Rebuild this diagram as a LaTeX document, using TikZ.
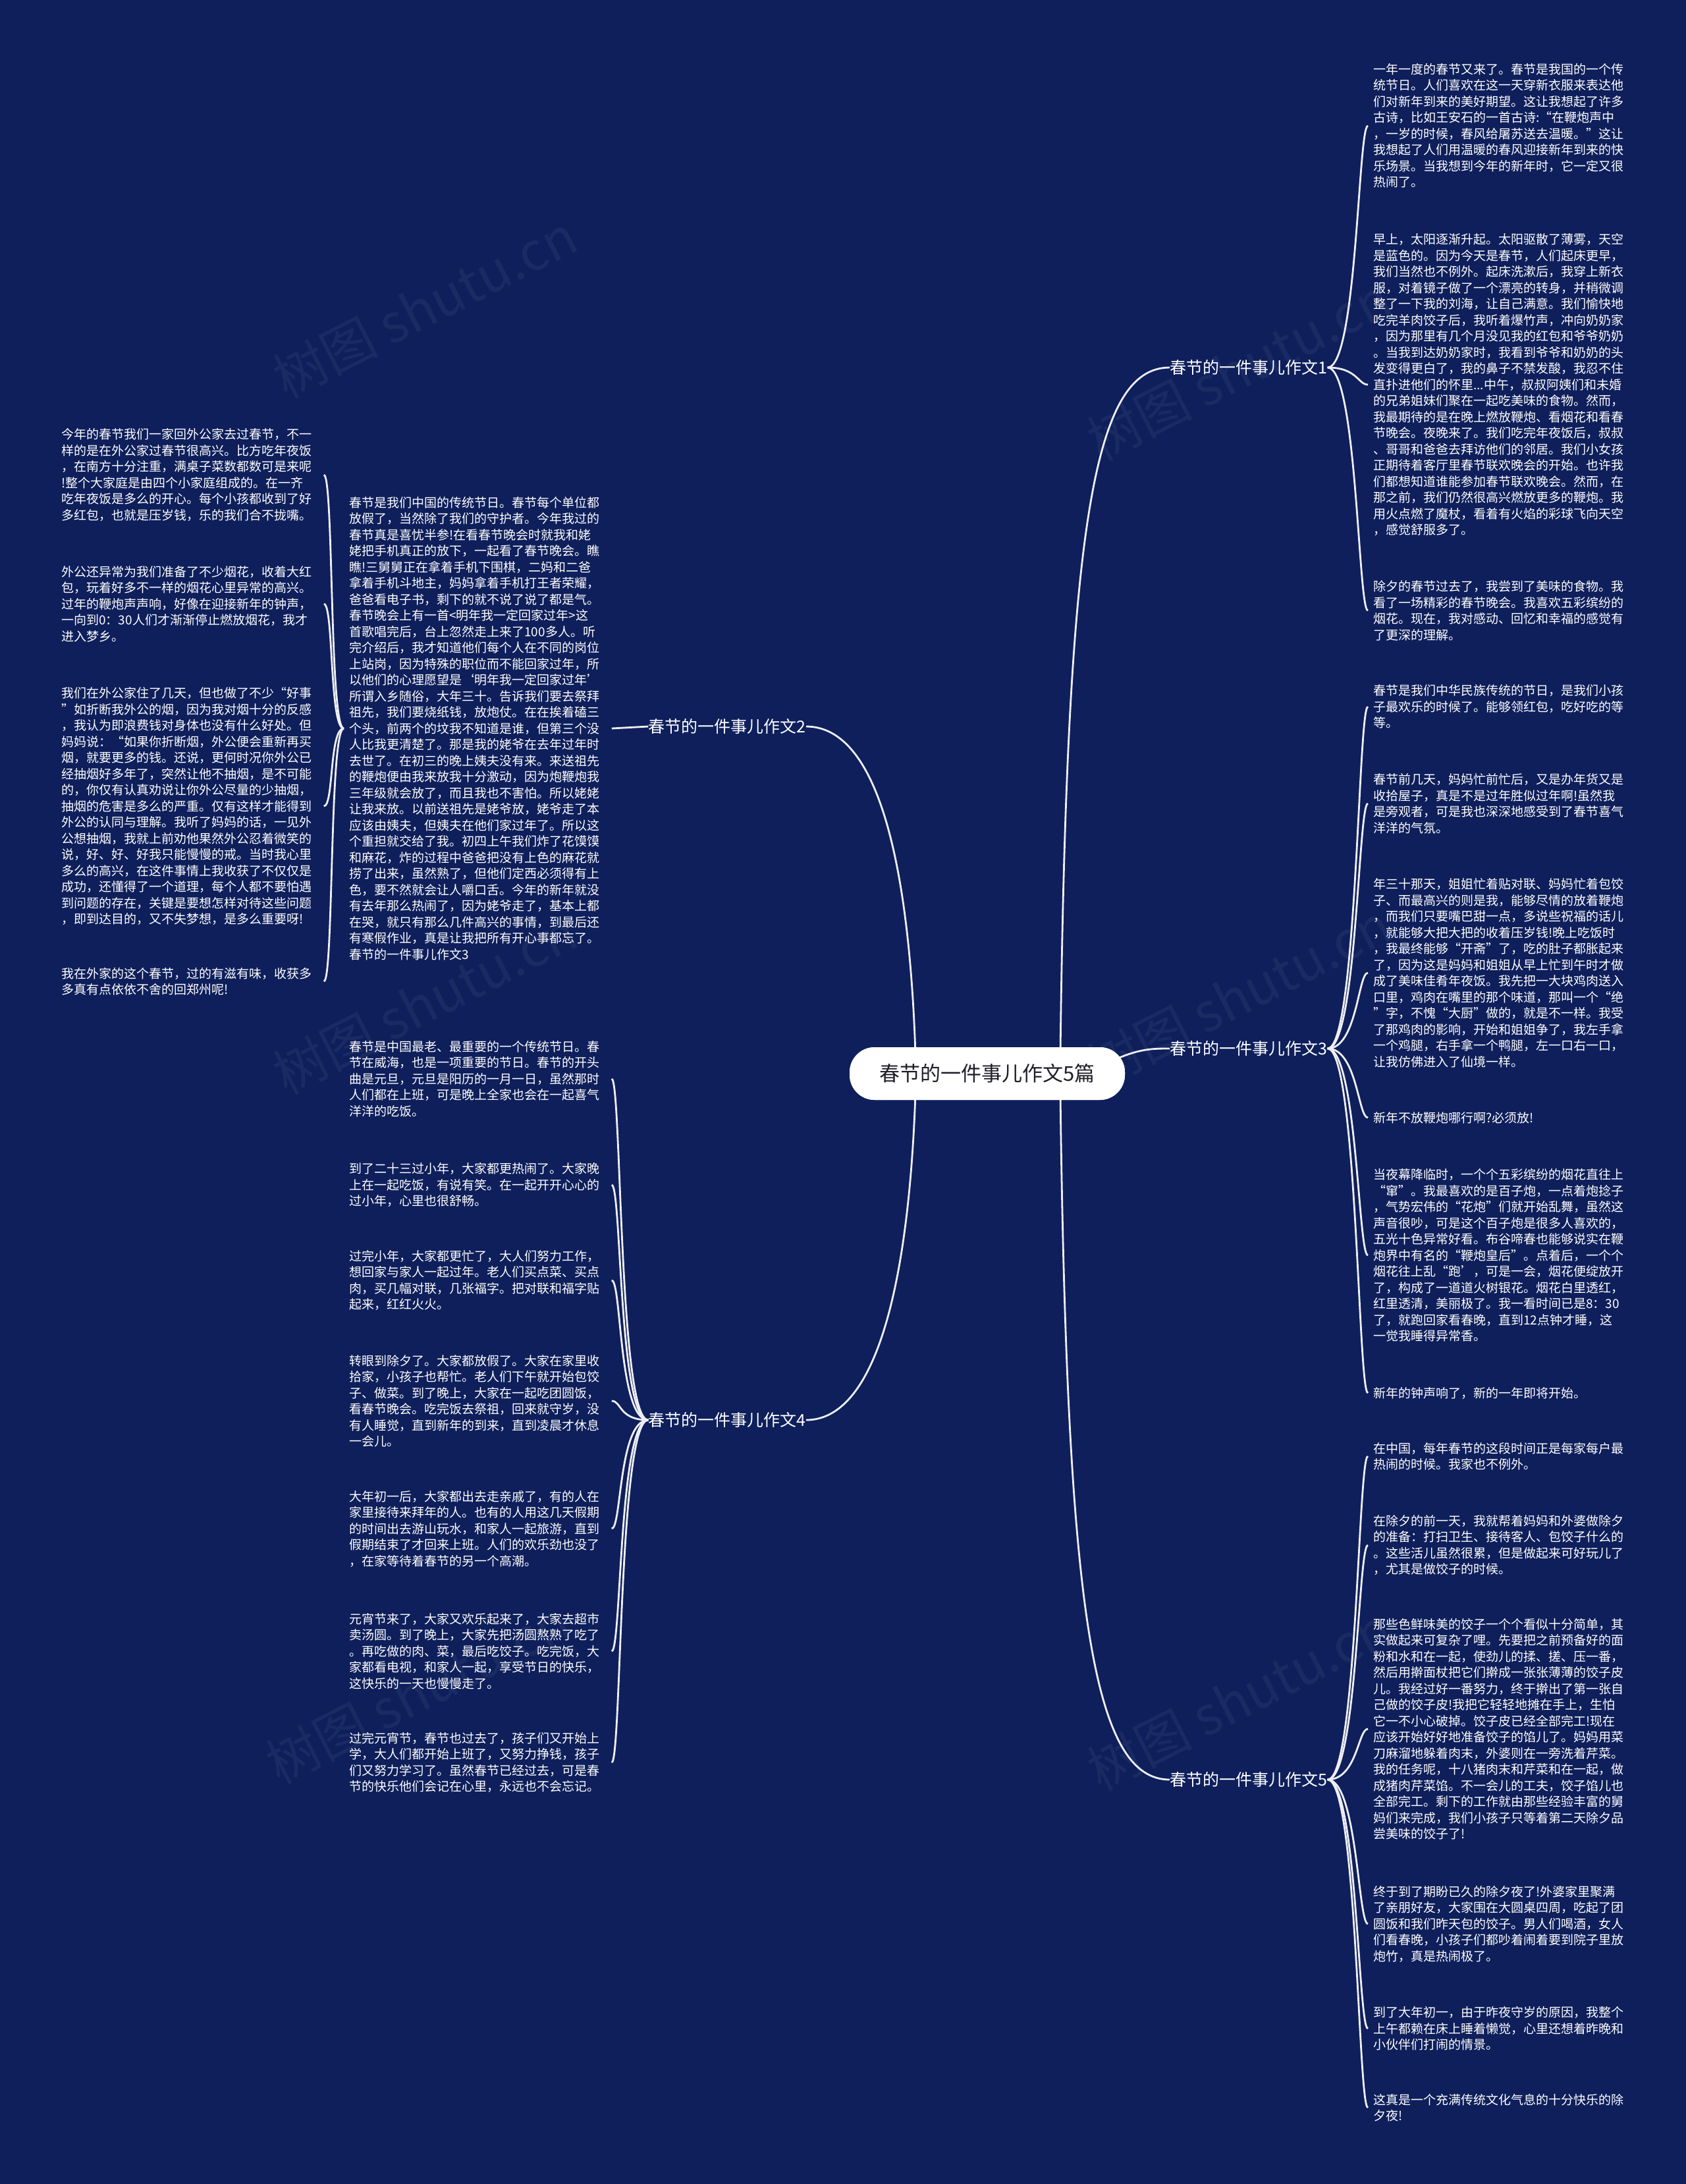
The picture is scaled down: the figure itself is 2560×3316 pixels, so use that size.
\documentclass[tikz,border=0pt]{standalone}
\usepackage{fontspec}
\setmainfont{Noto Sans CJK SC}
\usetikzlibrary{calc}
\definecolor{bgnavy}{RGB}{14,31,91}
\definecolor{linegray}{RGB}{238,238,242}
\definecolor{rootink}{RGB}{30,30,40}
\tikzset{
  leaf/.style={text=white, align=left, inner sep=0pt, text width=195pt,
    font=\fontsize{9.5}{12.25}\selectfont},
  branch/.style={text=white, inner sep=0pt, font=\fontsize{12.5}{15}\selectfont},
  root/.style={fill=white, text=rootink, rounded corners=19pt, minimum width=209pt,
    minimum height=40pt, inner sep=0pt, font=\fontsize{15.5}{18}\selectfont},
  link/.style={draw=linegray, line width=1.4pt},
  wmark/.style={text=white, opacity=0.05, rotate=27, font=\fontsize{40}{44}\selectfont}
}
\begin{document}
\begin{tikzpicture}[x=0.5pt, y=-0.5pt]
\fill[bgnavy] (0,0) rectangle (2560,3316);
\useasboundingbox (0,0) rectangle (2560,3316);

\node[wmark] (wm1) at (645,465) {树图 shutu.cn};
\node[wmark] (wm2) at (1881,560) {树图 shutu.cn};
\node[wmark] (wm3) at (645,1522) {树图 shutu.cn};
\node[wmark] (wm4) at (1881,1511) {树图 shutu.cn};
\node[wmark] (wm5) at (634,2569) {树图 shutu.cn};
\node[wmark] (wm6) at (1881,2579) {树图 shutu.cn};

\node[root] (root) at (1499,1630) {春节的一件事儿作文5篇};

\node[branch, anchor=west] (b1) at (1776,558) {春节的一件事儿作文1};
\node[branch, anchor=east] (b2) at (1224,1103) {春节的一件事儿作文2};
\node[branch, anchor=west] (b3) at (1776,1592) {春节的一件事儿作文3};
\node[branch, anchor=east] (b4) at (1224,2156) {春节的一件事儿作文4};
\node[branch, anchor=west] (b5) at (1776,2702) {春节的一件事儿作文5};

% essay 1
\node[leaf, anchor=west] (l1a) at (2085,191) {一年一度的春节又来了。春节是我国的一个传\\统节日。人们喜欢在这一天穿新衣服来表达他\\们对新年到来的美好期望。这让我想起了许多\\古诗，比如王安石的一首古诗:“在鞭炮声中\\，一岁的时候，春风给屠苏送去温暖。”这让\\我想起了人们用温暖的春风迎接新年到来的快\\乐场景。当我想到今年的新年时，它一定又很\\热闹了。};
\node[leaf, anchor=west] (l1b) at (2085,584) {早上，太阳逐渐升起。太阳驱散了薄雾，天空\\是蓝色的。因为今天是春节，人们起床更早，\\我们当然也不例外。起床洗漱后，我穿上新衣\\服，对着镜子做了一个漂亮的转身，并稍微调\\整了一下我的刘海，让自己满意。我们愉快地\\吃完羊肉饺子后，我听着爆竹声，冲向奶奶家\\，因为那里有几个月没见我的红包和爷爷奶奶\\。当我到达奶奶家时，我看到爷爷和奶奶的头\\发变得更白了，我的鼻子不禁发酸，我忍不住\\直扑进他们的怀里...中午，叔叔阿姨们和未婚\\的兄弟姐妹们聚在一起吃美味的食物。然而，\\我最期待的是在晚上燃放鞭炮、看烟花和看春\\节晚会。夜晚来了。我们吃完年夜饭后，叔叔\\、哥哥和爸爸去拜访他们的邻居。我们小女孩\\正期待着客厅里春节联欢晚会的开始。也许我\\们都想知道谁能参加春节联欢晚会。然而，在\\那之前，我们仍然很高兴燃放更多的鞭炮。我\\用火点燃了魔杖，看着有火焰的彩球飞向天空\\，感觉舒服多了。};
\node[leaf, anchor=west] (l1c) at (2085,927) {除夕的春节过去了，我尝到了美味的食物。我\\看了一场精彩的春节晚会。我喜欢五彩缤纷的\\烟花。现在，我对感动、回忆和幸福的感觉有\\了更深的理解。};

% essay 3
\node[leaf, anchor=west] (l3a) at (2085,1073) {春节是我们中华民族传统的节日，是我们小孩\\子最欢乐的时候了。能够领红包，吃好吃的等\\等。};
\node[leaf, anchor=west] (l3b) at (2085,1220) {春节前几天，妈妈忙前忙后，又是办年货又是\\收拾屋子，真是不是过年胜似过年啊!虽然我\\是旁观者，可是我也深深地感受到了春节喜气\\洋洋的气氛。};
\node[leaf, anchor=west] (l3c) at (2085,1477) {年三十那天，姐姐忙着贴对联、妈妈忙着包饺\\子、而最高兴的则是我，能够尽情的放着鞭炮\\，而我们只要嘴巴甜一点，多说些祝福的话儿\\，就能够大把大把的收着压岁钱!晚上吃饭时\\，我最终能够“开斋”了，吃的肚子都胀起来\\了，因为这是妈妈和姐姐从早上忙到午时才做\\成了美味佳肴年夜饭。我先把一大块鸡肉送入\\口里，鸡肉在嘴里的那个味道，那叫一个“绝\\”字，不愧“大厨”做的，就是不一样。我受\\了那鸡肉的影响，开始和姐姐争了，我左手拿\\一个鸡腿，右手拿一个鸭腿，左一口右一口，\\让我仿佛进入了仙境一样。};
\node[leaf, anchor=west] (l3d) at (2085,1697) {新年不放鞭炮哪行啊?必须放!};
\node[leaf, anchor=west] (l3e) at (2085,1906) {当夜幕降临时，一个个五彩缤纷的烟花直往上\\“窜”。我最喜欢的是百子炮，一点着炮捻子\\，气势宏伟的“花炮”们就开始乱舞，虽然这\\声音很吵，可是这个百子炮是很多人喜欢的，\\五光十色异常好看。布谷啼春也能够说实在鞭\\炮界中有名的“鞭炮皇后”。点着后，一个个\\烟花往上乱“跑’，可是一会，烟花便绽放开\\了，构成了一道道火树银花。烟花白里透红，\\红里透清，美丽极了。我一看时间已是8：30\\了，就跑回家看春晚，直到12点钟才睡，这\\一觉我睡得异常香。};
\node[leaf, anchor=west] (l3f) at (2085,2115) {新年的钟声响了，新的一年即将开始。};

% essay 5
\node[leaf, anchor=west] (l5a) at (2085,2211) {在中国，每年春节的这段时间正是每家每户最\\热闹的时候。我家也不例外。};
\node[leaf, anchor=west] (l5b) at (2085,2346) {在除夕的前一天，我就帮着妈妈和外婆做除夕\\的准备：打扫卫生、接待客人、包饺子什么的\\。这些活儿虽然很累，但是做起来可好玩儿了\\，尤其是做饺子的时候。};
\node[leaf, anchor=west] (l5c) at (2085,2625) {那些色鲜味美的饺子一个个看似十分简单，其\\实做起来可复杂了哩。先要把之前预备好的面\\粉和水和在一起，使劲儿的揉、搓、压一番，\\然后用擀面杖把它们擀成一张张薄薄的饺子皮\\儿。我经过好一番努力，终于擀出了第一张自\\己做的饺子皮!我把它轻轻地摊在手上，生怕\\它一不小心破掉。饺子皮已经全部完工!现在\\应该开始好好地准备饺子的馅儿了。妈妈用菜\\刀麻溜地躲着肉末，外婆则在一旁洗着芹菜。\\我的任务呢，十八猪肉末和芹菜和在一起，做\\成猪肉芹菜馅。不一会儿的工夫，饺子馅儿也\\全部完工。剩下的工作就由那些经验丰富的舅\\妈们来完成，我们小孩子只等着第二天除夕品\\尝美味的饺子了!};
\node[leaf, anchor=west] (l5d) at (2085,2921) {终于到了期盼已久的除夕夜了!外婆家里聚满\\了亲朋好友，大家围在大圆桌四周，吃起了团\\圆饭和我们昨天包的饺子。男人们喝酒，女人\\们看春晚，小孩子们都吵着闹着要到院子里放\\炮竹，真是热闹极了。};
\node[leaf, anchor=west] (l5e) at (2085,3080) {到了大年初一，由于昨夜守岁的原因，我整个\\上午都赖在床上睡着懒觉，心里还想着昨晚和\\小伙伴们打闹的情景。};
\node[leaf, anchor=west] (l5f) at (2085,3200) {这真是一个充满传统文化气息的十分快乐的除\\夕夜!};

% essay 2
\node[leaf, anchor=west] (l2) at (530,1106) {春节是我们中国的传统节日。春节每个单位都\\放假了，当然除了我们的守护者。今年我过的\\春节真是喜忧半参!在看春节晚会时就我和姥\\姥把手机真正的放下，一起看了春节晚会。瞧\\瞧!三舅舅正在拿着手机下围棋，二妈和二爸\\拿着手机斗地主，妈妈拿着手机打王者荣耀，\\爸爸看电子书，剩下的就不说了说了都是气。\\春节晚会上有一首<明年我一定回家过年>这\\首歌唱完后，台上忽然走上来了100多人。听\\完介绍后，我才知道他们每个人在不同的岗位\\上站岗，因为特殊的职位而不能回家过年，所\\以他们的心理愿望是‘明年我一定回家过年’\\所谓入乡随俗，大年三十。告诉我们要去祭拜\\祖先，我们要烧纸钱，放炮仗。在在挨着磕三\\个头，前两个的坟我不知道是谁，但第三个没\\人比我更清楚了。那是我的姥爷在去年过年时\\去世了。在初三的晚上姨夫没有来。来送祖先\\的鞭炮便由我来放我十分激动，因为炮鞭炮我\\三年级就会放了，而且我也不害怕。所以姥姥\\让我来放。以前送祖先是姥爷放，姥爷走了本\\应该由姨夫，但姨夫在他们家过年了。所以这\\个重担就交给了我。初四上午我们炸了花馍馍\\和麻花，炸的过程中爸爸把没有上色的麻花就\\捞了出来，虽然熟了，但他们定西必须得有上\\色，要不然就会让人嚼口舌。今年的新年就没\\有去年那么热闹了，因为姥爷走了，基本上都\\在哭，就只有那么几件高兴的事情，到最后还\\有寒假作业，真是让我把所有开心事都忘了。\\春节的一件事儿作文3};
\node[leaf, anchor=west] (l2a) at (93,721) {今年的春节我们一家回外公家去过春节，不一\\样的是在外公家过春节很高兴。比方吃年夜饭\\，在南方十分注重，满桌子菜数都数可是来呢\\!整个大家庭是由四个小家庭组成的。在一齐\\吃年夜饭是多么的开心。每个小孩都收到了好\\多红包，也就是压岁钱，乐的我们合不拢嘴。};
\node[leaf, anchor=west] (l2b) at (93,917) {外公还异常为我们准备了不少烟花，收着大红\\包，玩着好多不一样的烟花心里异常的高兴。\\过年的鞭炮声声响，好像在迎接新年的钟声，\\一向到0：30人们才渐渐停止燃放烟花，我才\\进入梦乡。};
\node[leaf, anchor=west] (l2c) at (93,1224) {我们在外公家住了几天，但也做了不少“好事\\”如折断我外公的烟，因为我对烟十分的反感\\，我认为即浪费钱对身体也没有什么好处。但\\妈妈说：“如果你折断烟，外公便会重新再买\\烟，就要更多的钱。还说，更何时况你外公已\\经抽烟好多年了，突然让他不抽烟，是不可能\\的，你仅有认真劝说让你外公尽量的少抽烟，\\抽烟的危害是多么的严重。仅有这样才能得到\\外公的认同与理解。我听了妈妈的话，一见外\\公想抽烟，我就上前劝他果然外公忍着微笑的\\说，好、好、好我只能慢慢的戒。当时我心里\\多么的高兴，在这件事情上我收获了不仅仅是\\成功，还懂得了一个道理，每个人都不要怕遇\\到问题的存在，关键是要想怎样对待这些问题\\，即到达目的，又不失梦想，是多么重要呀!};
\node[leaf, anchor=west] (l2d) at (93,1490) {我在外家的这个春节，过的有滋有味，收获多\\多真有点依依不舍的回郑州呢!};

% essay 4
\node[leaf, anchor=west] (l4a) at (530,1638) {春节是中国最老、最重要的一个传统节日。春\\节在威海，也是一项重要的节日。春节的开头\\曲是元旦，元旦是阳历的一月一日，虽然那时\\人们都在上班，可是晚上全家也会在一起喜气\\洋洋的吃饭。};
\node[leaf, anchor=west] (l4b) at (530,1799) {到了二十三过小年，大家都更热闹了。大家晚\\上在一起吃饭，有说有笑。在一起开开心心的\\过小年，心里也很舒畅。};
\node[leaf, anchor=west] (l4c) at (530,1944) {过完小年，大家都更忙了，大人们努力工作，\\想回家与家人一起过年。老人们买点菜、买点\\肉，买几幅对联，几张福字。把对联和福字贴\\起来，红红火火。};
\node[leaf, anchor=west] (l4d) at (530,2127) {转眼到除夕了。大家都放假了。大家在家里收\\拾家，小孩子也帮忙。老人们下午就开始包饺\\子、做菜。到了晚上，大家在一起吃团圆饭，\\看春节晚会。吃完饭去祭祖，回来就守岁，没\\有人睡觉，直到新年的到来，直到凌晨才休息\\一会儿。};
\node[leaf, anchor=west] (l4e) at (530,2321) {大年初一后，大家都出去走亲戚了，有的人在\\家里接待来拜年的人。也有的人用这几天假期\\的时间出去游山玩水，和家人一起旅游，直到\\假期结束了才回来上班。人们的欢乐劲也没了\\，在家等待着春节的另一个高潮。};
\node[leaf, anchor=west] (l4f) at (530,2507) {元宵节来了，大家又欢乐起来了，大家去超市\\卖汤圆。到了晚上，大家先把汤圆熬熟了吃了\\。再吃做的肉、菜，最后吃饺子。吃完饭，大\\家都看电视，和家人一起，享受节日的快乐，\\这快乐的一天也慢慢走了。};
\node[leaf, anchor=west] (l4g) at (530,2676) {过完元宵节，春节也过去了，孩子们又开始上\\学，大人们都开始上班了，又努力挣钱，孩子\\们又努力学习了。虽然春节已经过去，可是春\\节的快乐他们会记在心里，永远也不会忘记。};

% main branches
\draw[link] (1610,1600) .. controls (1620,800) and (1660,558) .. (b1.west);
\draw[link] (1690,1610) .. controls (1730,1592) and (1750,1592) .. (b3.west);
\draw[link] (1610,1660) .. controls (1620,2450) and (1660,2702) .. (b5.west);
\draw[link] (1390,1600) .. controls (1380,1300) and (1330,1103) .. (b2.east);
\draw[link] (1390,1660) .. controls (1380,1950) and (1330,2156) .. (b4.east);
\node[root] at (root) {春节的一件事儿作文5篇};

% leaves
\foreach \n in {l1a,l1b,l1c}
  \draw[link] (b1.east) .. controls ($(b1.east)+(45,0)$) and ($(\n.west)+(-23,0)$) .. ($(\n.west)+(-8,0)$);
\foreach \n in {l3a,l3b,l3c,l3d,l3e,l3f}
  \draw[link] (b3.east) .. controls ($(b3.east)+(45,0)$) and ($(\n.west)+(-23,0)$) .. ($(\n.west)+(-8,0)$);
\foreach \n in {l5a,l5b,l5c,l5d,l5e,l5f}
  \draw[link] (b5.east) .. controls ($(b5.east)+(45,0)$) and ($(\n.west)+(-23,0)$) .. ($(\n.west)+(-8,0)$);
\foreach \n in {l4a,l4b,l4c,l4d,l4e,l4f,l4g}
  \draw[link] (b4.west) .. controls ($(b4.west)+(-45,0)$) and ($(\n.east)+(23,0)$) .. ($(\n.east)+(8,0)$);
\draw[link] (b2.west) -- ($(l2.east)+(8,0)$);
\foreach \n in {l2a,l2b,l2c,l2d}
  \draw[link] ($(l2.west)+(-8,0)$) .. controls ($(l2.west)+(-30,0)$) and ($(\n.east)+(23,0)$) .. ($(\n.east)+(8,0)$);
\end{tikzpicture}
\end{document}
